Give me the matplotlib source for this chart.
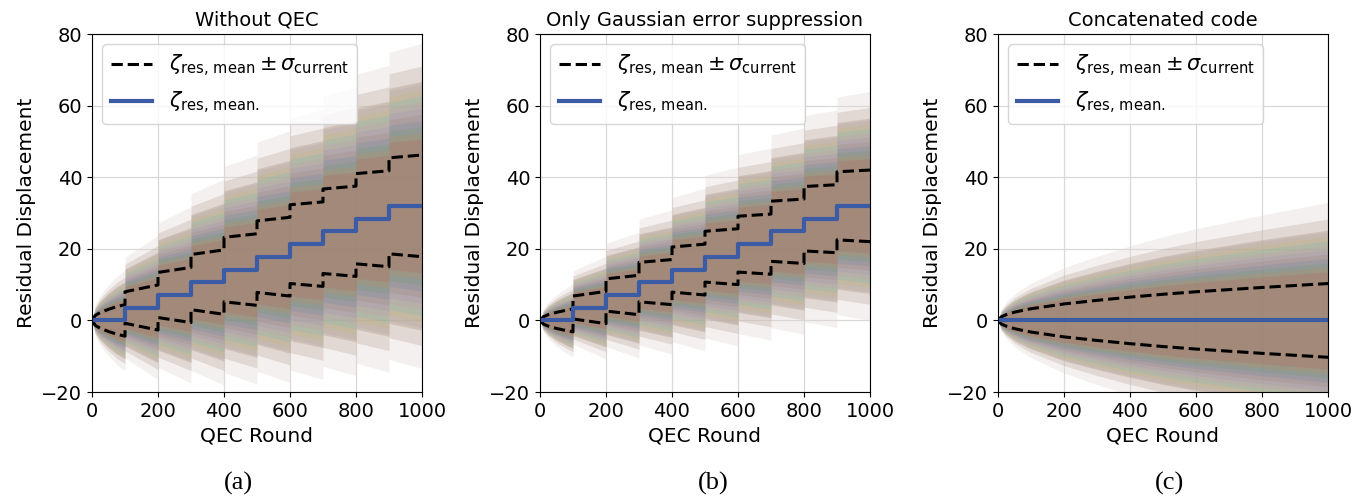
import numpy as np
import matplotlib.pyplot as plt

rounds = [0, 10, 25, 50, 75, 100, 200, 300, 400, 500, 600, 700, 800, 900, 1000]

# mean residual displacement for each block of 100 rounds
mean_a = [0, 3.6, 7.1, 10.7, 14.2, 17.8, 21.3, 24.9, 28.4, 32.0]
mean_b = [0, 3.6, 7.1, 10.7, 14.2, 17.8, 21.3, 24.9, 28.4, 32.0]
mean_c = [0, 0, 0, 0, 0, 0, 0, 0, 0, 0]

# sigma_current at the rounds above
sigma_a = [0, 1.4, 2.2, 3.1, 3.85, 4.4, 6.3, 7.7, 9.0, 10.0, 11.0, 11.8, 12.6, 13.4, 14.2]
sigma_b = [0, 1.0, 1.6, 2.25, 2.75, 3.2, 4.5, 5.5, 6.3, 7.1, 7.8, 8.4, 9.0, 9.5, 10.0]
sigma_c = [0, 1.0, 1.6, 2.3, 2.8, 3.25, 4.6, 5.6, 6.5, 7.3, 8.0, 8.6, 9.2, 9.75, 10.3]

titles = ["Without QEC", "Only Gaussian error suppression", "Concatenated code"]
panel_tags = ["(a)", "(b)", "(c)"]
block = 100

# trajectory colours (default cycle), last ones end up on top
traj_colors = ["#7f7f7f", "#bcbd22", "#17becf", "#e377c2", "#9467bd",
               "#8c564b", "#1f77b4", "#2ca02c", "#ff7f0e", "#d62728"]


def piecewise(means, sigma):
    # join the blocks so each block sits on its own mean, with a jump at the boundary
    xs, ms, ss = [], [], []
    for k, m in enumerate(means):
        lo, hi = k * block, (k + 1) * block
        for r, s in zip(rounds, sigma):
            if lo <= r <= hi:
                xs.append(r)
                ms.append(m)
                ss.append(s)
    return np.array(xs), np.array(ms), np.array(ss)


fig = plt.figure(figsize=(13.68, 4.99), dpi=100)
lefts = [92, 540, 998]
tag_x = [238, 713, 1170]

data = [(mean_a, sigma_a), (mean_b, sigma_b), (mean_c, sigma_c)]

for i, (means, sigma) in enumerate(data):
    ax = fig.add_axes([lefts[i] / 1368, 107 / 499, 330 / 1368, 358 / 499])
    ax.set_axisbelow(True)
    x, m, s = piecewise(means, sigma)

    # cloud of trajectories
    ax.fill_between(x, m - 3.2 * s, m + 3.2 * s, color="#e2d6d5", alpha=0.35, lw=0)
    ax.fill_between(x, m - 2.75 * s, m + 2.75 * s, color="#cbbab0", alpha=0.45, lw=0)
    ax.fill_between(x, m - 2.45 * s, m + 2.45 * s, color="#bcaa9c", alpha=0.5, lw=0)
    for j, col in enumerate(traj_colors):
        z = 2.4 - 0.12 * j
        ax.fill_between(x, m - z * s, m + z * s, color=col, alpha=0.11, lw=0)

    ax.plot(x, m + s, color="black", ls="--", lw=2.2,
            label=r"$\zeta_{\rm res,\,mean} \pm \sigma_{\rm current}$")
    ax.plot(x, m - s, color="black", ls="--", lw=2.2)
    ax.plot(x, m, color="#3b5ba5", lw=3, label=r"$\zeta_{\rm res,\,mean.}$")

    ax.set_xlim(0, 1000)
    ax.set_ylim(-20, 80)
    ax.set_xticks([0, 200, 400, 600, 800, 1000])
    ax.set_yticks([-20, 0, 20, 40, 60, 80])
    ax.grid(True, color="#d8d8d8", lw=0.9)
    ax.tick_params(labelsize=14)
    ax.set_title(titles[i], fontsize=14)
    ax.set_xlabel("QEC Round", fontsize=14.5)
    ax.set_ylabel("Residual Displacement", fontsize=14.5)
    ax.legend(loc="upper left", fontsize=15)

    fig.text(tag_x[i] / 1368, 1 - 483 / 499, panel_tags[i], ha="center", va="center",
             fontsize=19, family="Liberation Serif")

fig.savefig("out.png", dpi=100)
